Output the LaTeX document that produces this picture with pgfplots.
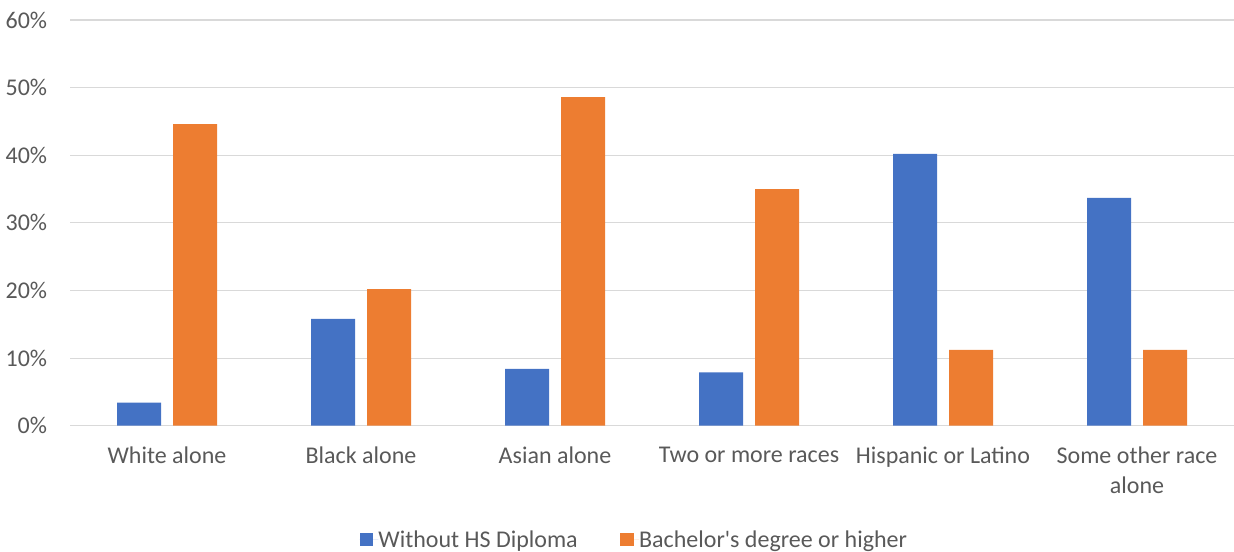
\documentclass[border=0pt]{standalone}
\usepackage{fontspec}
\setmainfont{Carlito}
\usepackage{pgfplots}
\pgfplotsset{compat=1.18}
\definecolor{cblue}{HTML}{4472C4}
\definecolor{corange}{HTML}{ED7D31}
\definecolor{ctext}{HTML}{595959}
\definecolor{cgrid}{HTML}{D9D9D9}
\begin{document}
\begin{tikzpicture}
\path[use as bounding box] (-52.5pt,-94.5pt) rectangle (873pt,319.3pt);
\begin{axis}[
  at={(0,0)}, anchor=south west,
  scale only axis, width=873pt, height=304.3pt,
  xmin=-0.5, xmax=5.5, ymin=0, ymax=60,
  ybar=9pt, bar width=33pt,
  axis line style={draw=none},
  major tick length=0pt,
  ymajorgrids, grid style={cgrid, line width=0.9pt},
  xtick={0,...,5},
  xticklabels={White alone, Black alone, Asian alone, Two or more races, Hispanic or Latino, {Some other race\\alone}},
  ytick={0,10,...,60},
  yticklabels={0\%,10\%,20\%,30\%,40\%,50\%,60\%},
  ticklabel style={font=\fontsize{18}{22.5}\selectfont, text=ctext},
  xticklabel style={anchor=north, inner sep=0pt, yshift=-16pt, align=center},
  yticklabel style={anchor=east, inner sep=0pt, xshift=-17pt},
  legend style={at={(0.484,-0.281)}, anchor=center, draw=none, fill=none,
    legend columns=2, font=\fontsize{18}{21.5}\selectfont, text=ctext,
    /tikz/every even column/.append style={column sep=32pt},
    nodes={inner sep=0pt}},
  legend cell align=left,
  legend image code/.code={\fill[#1] (0pt,-5pt) rectangle (10pt,5pt); \path (0pt,0pt) -- (14pt,0pt);},
]
\addplot[fill=cblue, draw=none] coordinates {(0,3.4) (1,15.8) (2,8.4) (3,7.9) (4,40.2) (5,33.7)};
\addplot[fill=corange, draw=none] coordinates {(0,44.6) (1,20.2) (2,48.6) (3,35.0) (4,11.2) (5,11.2)};
\legend{Without HS Diploma, Bachelor\textquotesingle s degree or higher}
\end{axis}
\end{tikzpicture}
\end{document}
